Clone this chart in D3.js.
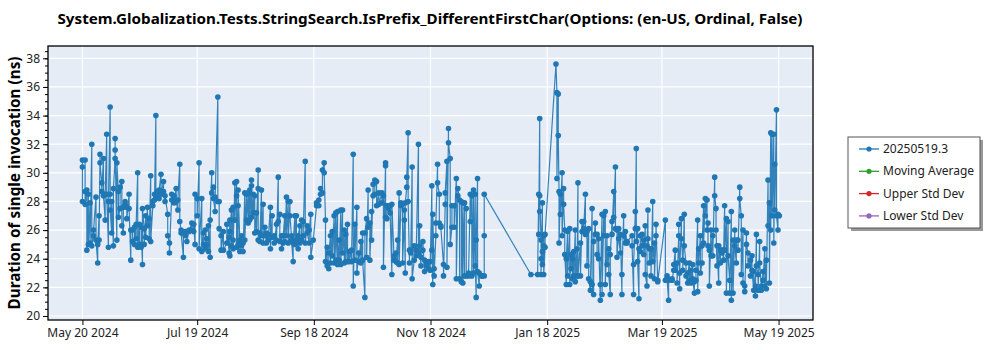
<!DOCTYPE html>
<html><head><meta charset="utf-8">
<script src="https://cdn.jsdelivr.net/npm/d3@7"></script>
<style>
html,body{margin:0;padding:0;background:#fff;}
text{font-family:"Segoe UI","Noto Sans","Open Sans",sans-serif;}
</style></head>
<body><svg id="chart" width="1000" height="350"></svg>
<script>
// ---------------- data ----------------
const chartTitle = "System.Globalization.Tests.StringSearch.IsPrefix_DifferentFirstChar(Options: (en-US, Ordinal, False)";
const yAxisLabel = "Duration of single invocation (ns)";
const seriesName = "20250519.3";
const legendNames = ["20250519.3", "Moving Average", "Upper Std Dev", "Lower Std Dev"];
const baseDate = "2024-05-20";          // day 0
const xDomainDates = ["2024-05-02", "2025-06-06"];
const xTickDates = ["2024-05-20", "2024-07-19", "2024-09-18", "2024-11-18", "2025-01-18", "2025-03-19", "2025-05-19"];
const yDomain = [19.72, 38.86];
const yTicks = [20, 22, 24, 26, 28, 30, 32, 34, 36, 38];

// days since baseDate, and the run values measured on that day
const days = [
0,1.4,2.3,3.1,4.0,4.9,5.8,7.1,8.0,8.7,9.2,10.1,11.0,11.9,12.7,13.6,14.5,15.3,16.2,17.1,18.0,18.8,19.7,20.6,21.4,22.3,23.2,24.4,25.3,26.2,27.2,28.1,28.9,29.8,30.7,31.4,32.3,33.1,34.0,34.9,35.7,36.8,37.7,38.4,39.2,40.1,41.1,42.4,43.2,44.6,45.5,46.7,47.9,49.0,49.9,50.9,51.6,52.8,53.7,54.6,55.8,57.2,58.2,58.9,60.0,61.0,62.4,63.3,64.2,65.0,65.9,66.8,67.6,68.5,69.4,70.8,71.5,72.5,73.7,75.5,76.7,
77.1,77.9,78.8,79.7,80.6,81.4,82.3,83.2,84.0,84.9,85.8,86.7,87.5,88.4,89.3,90.1,91.0,91.9,92.8,93.6,94.5,95.4,96.2,97.1,98.3,99.2,100.3,101.5,102.4,103.2,104.1,105.0,105.8,106.7,107.6,108.5,109.3,110.2,111.1,111.9,112.8,113.7,114.6,115.4,116.5,117.5,118.6,119.4,120.7,122.4,123.6,124.5,125.5,126.4,127.1,128.0,128.8,129.7,130.6,131.6,132.5,133.4,134.3,135.1,136.0,136.9,137.7,138.6,139.5,140.7,141.6,142.4,143.5,144.5,145.6,146.5,147.7,148.6,149.4,150.3,151.2,152.0,152.9,153.8,155.0,
156.6,157.4,158.5,159.2,160.1,160.9,161.8,163.0,163.9,164.8,165.6,166.5,167.4,168.3,168.8,169.6,170.3,171.0,171.7,172.4,173.5,174.5,175.7,176.3,177.0,178.0,178.9,179.8,181.0,181.8,182.7,183.2,183.9,184.8,185.7,186.6,187.4,188.8,189.7,190.6,191.4,192.3,193.2,194.4,195.5,196.3,197.2,198.1,198.9,199.8,200.7,201.9,202.8,203.6,204.5,205.4,205.9,206.6,207.5,208.9,210.1,234.5,
238.0,238.6,239.1,239.8,240.5,241.2,241.9,247.6,248.1,248.8,249.2,249.9,250.8,251.6,252.2,253.0,253.7,254.8,255.5,256.2,256.9,257.7,258.6,259.1,260.4,261.2,262.1,263.0,263.8,264.7,265.6,266.5,267.3,268.2,269.1,269.9,270.8,271.7,272.6,273.4,274.3,275.2,276.0,276.9,277.8,278.7,279.5,280.4,281.3,282.1,283.0,283.9,284.8,287.4,288.2,289.1,289.6,290.3,291.0,291.7,292.6,293.5,294.3,295.2,295.7,296.4,297.3,298.2,299.1,299.9,300.8,
304.8,305.7,306.5,308.3,309.2,310.0,310.9,311.8,312.3,313.2,313.9,314.7,315.6,316.5,317.4,318.2,319.1,320.0,320.8,321.7,322.2,323.1,324.0,324.8,325.7,326.6,327.1,327.8,328.7,329.6,330.6,331.3,331.8,332.7,333.6,334.4,335.3,335.8,336.7,337.6,338.4,339.3,340.2,341.1,341.9,342.8,343.7,344.5,345.4,346.3,347.2,348.0,349.3,350.1,351.0,351.9,352.4,353.3,354.1,355.0,355.9,356.8,357.6,358.5,359.2,359.9,360.6,361.5,362.0,362.9,363.7,364.4
];
const dayValues = [
[28.0,30.4,30.9],[30.9,28.7,27.8],[28.8,24.6],[28.5,25.0],[27.9,25.1],[32.0,24.9],[25.6,26.0],[28.3,25.3],[23.7,25.0],[27.0,25.3],[31.3,30.7],[29.3,28.7],[31.0,28.4],[26.7,28.5],[32.7,28.5],[24.8,28.0],[34.6,28.5,27.4],[25.8,28.0],[24.9,28.9],[31.0,32.4,31.6],[25.3,30.7],[28.7,26.9],[27.5,29.0],[29.4,26.3],[25.8,27.6],[27.8,28.0],[27.6,26.8],[28.5,27.5],[23.9,26.0],[26.0,25.2],[25.0,26.2],[25.4,26.4],[30.0,24.8],[26.4,25.0],[24.8,26.2],[23.6,27.5],[26.1,25.0],[27.0,25.5],[27.6,26.3],[26.8,25.4],[29.8,25.2],[27.7,28.0],[28.5,28.1],[34.0,28.3],[28.7,28.4],[28.2,28.8],[29.9,28.5],[29.4,28.7],[28.0,28.4],[27.1,25.6],[25.1,24.4],[28.5,28.1],[28.4,27.9],[28.9,28.0],[27.4,28.1],[30.6,26.6],[26.0,25.8],[24.1,25.8],[25.9,25.6],[25.9,25.2],[26.0,25.9],[26.5,26.0],[25.9,26.4],[25.0,28.5],[28.2,27.0],[30.7,24.7],[28.2,24.5],[25.8,25.0],[24.7,26.0],[25.4,25.0],[24.5,26.3],[24.1,26.7],[30.0,28.6],[29.0,28.2],[27.3,28.3],[35.3,28.0],[28.0,26.1],[25.6,24.6],[25.9,24.6],[25.1,26.4],[24.4,25.5],
[26.7,24.2,25.9],[27.4,24.9],[27.6,25.3,24.7],[29.3,26.7],[29.4,28.4,24.8],[27.7,25.0,28.8],[25.3,24.5],[25.6,24.9],[25.1,24.5],[28.6,25.3],[28.5,26.7],[28.6,26.5],[28.8,26.7],[29.5,29.1,26.9],[28.5,27.2],[28.4,25.8],[27.2,25.9],[30.2,28.9,25.3],[25.8,25.2],[28.8,25.6],[27.8,25.1],[26.2,25.6],[25.8,25.1],[25.7,25.3],[27.6,24.7],[27.0,25.5],[25.6,25.1],[26.4,25.3],[29.7,26.6],[27.1,25.2],[25.6,24.7],[25.1,25.6],[27.0,25.2],[28.3,25.6],[28.0,25.1],[28.0,27.0],[25.6,25.3],[23.8,25.1],[27.0,25.0],[27.0,25.3],[24.7,25.6],[26.3,25.1],[25.3,26.7],[26.6,25.6],[30.8,25.1],[26.3,25.8],[25.1,26.0],[27.1,24.1],[25.3],[27.7,27.9],[28.1,27.7],[28.9,28.5],[28.6,30.2],[30.7,30.0],[26.7,23.8],[24.8,23.5],[23.3,24.4],[25.6,23.7],[25.9,24.2],[27.0,23.7],[27.2,23.9],[27.3,23.6],[25.3,23.9],[27.4,23.6],[27.4,24.4],[26.0,23.7],[25.7,23.8],[26.4,23.8],[24.5,23.8],[24.6,23.8],[31.3,22.1],[26.4,23.9],[27.6,23.0],[24.4,23.8],[25.2,23.7],[25.8,23.9],[21.3,25.8],[26.8,24.1],[28.8,26.2],[26.5,23.9],[27.3,25.3],[29.2,28.4],[28.5,29.5],[29.4,27.7],[28.6,27.8],
[28.6,27.9],[28.4,23.4],[30.7,30.5,26.9],[26.8,27.7],[27.7,27.5],[27.7,27.2],[22.9,27.8],[23.9,24.2],[24.4,23.8],[25.3,23.7],[28.6,23.6],[27.7,27.9],[27.8,23.7],[26.7,27.4],[23.0,27.9],[29.0,29.7],[32.8,28.0],[23.7,24.6],[24.4,24.6],[30.4,22.6],[23.9,24.9],[24.6,24.2],[32.0,24.4],[26.3,24.9],[23.5,24.1],[24.6,25.2],[23.1,23.9],[23.7,23.5],[23.8,23.3],[23.8,23.2],[29.1,24.6],[22.2,27.1],[23.3,22.8],[25.6,26.5],[30.6,29.3],[28.5,26.5],[26.3,26.2],[23.6,22.8],[27.8,28.6],[30.8,23.4],[33.1,32.1],[31.0,25.0],[26.2,27.7],[27.7,26.2],[29.6,22.6],[28.4,28.9],[28.1,22.6],[22.4,28.0],[22.3,27.9],[22.8,27.9],[27.5,22.8],[22.8,23.0],[28.5,26.6],[28.4,22.8],[28.8,23.0],[28.5,23.5],[21.3,25.3],[29.6,23.1],[22.1,23.0],[22.8,22.8],[22.8,25.6,28.5],[22.9],
[22.9],[28.5,25.7],[33.8,27.3,28.4],[25.3,24.0,22.9],[27.9,24.5,23.6],[24.9,25.6,22.9],[24.8,25.7],[37.6],[35.6,29.6],[35.5,32.6],[28.7,25.1],[28.5,27.1],[30.0,25.6],[28.9,27.8],[26.0,24.3],[22.2,24.0],[25.9,22.8],[26.1,22.2],[24.3,23.3],[24.0,22.6],[24.5,22.8],[26.0,22.4],[24.7,22.8],[29.3,22.8],[25.1,22.8],[26.6,25.9],[26.6,26.1],[28.5,25.7],[25.9,23.5],[26.1,22.6],[21.8,22.4],[27.5,22.2],[21.5,25.2],[26.5,25.7],[25.7,24.3],[24.0,25.4],[21.1,22.2],[27.1,21.5],[27.0,25.6],[27.3,22.2],[25.6,23.6],[24.7,22.9],[21.5,24.3],[26.6,25.7],[28.7,26.9],[30.4,26.1],[26.0,24.1],[26.1,25.4],[24.4,25.7],[21.5,22.9],[27.0,25.6],[25.1,25.9],[25.1,25.2],[25.6,24.9],[21.5,23.6],[27.3,26.1],[31.7,25.2],[26.1,23.8],[21.2,24.7],[24.5,25.6],[25.7,24.9],[25.3,24.3],[26.3,22.9],[22.1,24.9],[27.4,25.4],[24.7,23.7],[24.7,22.8],[28.0,23.8],[25.1,22.6],[25.6,26.4],[22.5,22.4],
[26.7,22.5],[22.8,22.6],[21.1,22.5],[22.6,22.5],[23.2,23.6],[24.6,23.2],[23.7,22.3],[25.6,26.4],[21.9,23.0],[26.8,25.4],[23.9,23.2],[27.1,24.9],[23.7,22.8],[22.3,23.0],[23.7,22.5],[23.2,22.3],[23.6,22.6],[21.6,22.4],[22.5,23.2],[26.7,21.7],[24.7,23.7],[25.6,23.0],[23.7,24.9],[27.7,25.1],[28.2,27.0],[28.1,26.0],[26.5,24.9],[24.6,22.1],[26.0,24.2],[25.6,24.2],[29.7,28.4],[27.5,26.0],[23.5,24.9],[22.3,24.9],[23.7,24.6],[24.4,24.6],[23.9,24.6],[27.7,24.6],[26.8,21.6],[26.6,24.2],[22.5,21.6],[27.3,21.1],[25.3,21.6],[26.0,24.9],[23.7,25.3],[25.3,24.6],[29.0,28.2],[27.0,22.9],[26.0,22.3],[22.1,21.7],[25.8,25.0],[24.4,23.5],[23.9,22.8],[24.2,23.2],[21.8,23.1],[21.4,22.1],[25.7,23.5],[22.9,21.8],[25.2,23.7],[22.1,21.8],[23.1,22.5],[24.7,22.1],[23.9,21.9],[29.5,26.3],[27.9,22.3],[32.8,26.0],[32.7,27.0],[32.7,25.1],[30.6,27.4],[34.4,27.0],[26.0,27.1],[27.0]
];

// ---------------- drawing ----------------
const svg = d3.select("#chart");
const W = 1000, H = 350;
const plot = {left: 48, top: 46, right: 813, bottom: 320};
const blue = "#1f77b4";
const legendColors = ["#1f77b4", "#2ca02c", "#d62728", "#9467bd"];
const parse = d3.timeParse("%Y-%m-%d");
const base = parse(baseDate);
const DAY = 86400000;

const points = [];
days.forEach((d, i) => dayValues[i].forEach(v => points.push({date: new Date(base.getTime() + d * DAY), value: v})));

const x = d3.scaleTime().domain(xDomainDates.map(parse)).range([plot.left, plot.right]);
const y = d3.scaleLinear().domain(yDomain).range([plot.bottom, plot.top]);

svg.append("rect").attr("width", W).attr("height", H).attr("fill", "#fff");
svg.append("rect").attr("x", plot.left).attr("y", plot.top)
  .attr("width", plot.right - plot.left).attr("height", plot.bottom - plot.top).attr("fill", "#e5ecf6");

const tickDates = xTickDates.map(parse);
// grid
svg.append("g").selectAll("line").data(yTicks).join("line")
  .attr("x1", plot.left).attr("x2", plot.right).attr("y1", d => y(d)).attr("y2", d => y(d))
  .attr("stroke", "#fff").attr("stroke-width", 1.2);
svg.append("g").selectAll("line").data(tickDates).join("line")
  .attr("y1", plot.top).attr("y2", plot.bottom).attr("x1", d => x(d)).attr("x2", d => x(d))
  .attr("stroke", "#fff").attr("stroke-width", 1.2);

// data
const clipId = "plotclip";
svg.append("clipPath").attr("id", clipId).append("rect")
  .attr("x", plot.left).attr("y", plot.top).attr("width", plot.right - plot.left).attr("height", plot.bottom - plot.top);
const g = svg.append("g").attr("clip-path", `url(#${clipId})`);
g.append("path").datum(points)
  .attr("d", d3.line().x(d => x(d.date)).y(d => y(d.value)))
  .attr("fill", "none").attr("stroke", blue).attr("stroke-width", 1.2).attr("stroke-opacity", 0.9);
g.selectAll("circle").data(points).join("circle")
  .attr("cx", d => x(d.date)).attr("cy", d => y(d.value)).attr("r", 2.8).attr("fill", blue);

// axes
const yAxis = d3.axisLeft(y).tickValues(yTicks).tickSize(5).tickPadding(3).tickFormat(d3.format("d"));
const yMinor = d3.axisLeft(y).tickValues(d3.range(20, 38.6, 0.5)).tickSize(3).tickFormat("");
const xAxis = d3.axisBottom(x).tickValues(tickDates).tickSize(5).tickPadding(3).tickFormat(d3.timeFormat("%b %d %Y"));
const gy2 = svg.append("g").attr("transform", `translate(${plot.left},0)`).call(yMinor);
const gy = svg.append("g").attr("transform", `translate(${plot.left},0)`).call(yAxis);
const gx = svg.append("g").attr("transform", `translate(0,${plot.bottom})`).call(xAxis);
[gy, gy2, gx].forEach(a => {
  a.select(".domain").remove();
  a.selectAll("line").attr("stroke", "#000");
  a.selectAll("text").attr("font-size", 12).attr("fill", "#222").style("font-family", '"Segoe UI","Noto Sans",sans-serif');
});
svg.append("rect").attr("x", plot.left).attr("y", plot.top)
  .attr("width", plot.right - plot.left).attr("height", plot.bottom - plot.top)
  .attr("fill", "none").attr("stroke", "#000").attr("stroke-width", 1.3);

// title & labels
svg.append("text").attr("x", 430).attr("y", 24).attr("text-anchor", "middle")
  .attr("font-size", 15).attr("font-weight", "bold").attr("fill", "#000")
  .attr("textLength", 745).attr("lengthAdjust", "spacingAndGlyphs").text(chartTitle);
svg.append("text").attr("transform", `translate(20,${(plot.top + plot.bottom) / 2}) rotate(-90)`)
  .attr("text-anchor", "middle").attr("font-size", 16).attr("font-weight", "bold").attr("fill", "#000")
  .attr("textLength", 253).attr("lengthAdjust", "spacingAndGlyphs").text(yAxisLabel);

// legend
const lg = svg.append("g").attr("transform", "translate(848,137)");
lg.append("rect").attr("x", 3).attr("y", 3).attr("width", 132).attr("height", 91).attr("fill", "#999");
lg.append("rect").attr("width", 132).attr("height", 91).attr("fill", "#fff").attr("stroke", "#555").attr("stroke-width", 1);
legendNames.forEach((name, i) => {
  const row = lg.append("g").attr("transform", `translate(0,${12 + i * 22.3})`);
  row.append("line").attr("x1", 11).attr("x2", 31).attr("stroke", legendColors[i]).attr("stroke-width", 1.3);
  row.append("circle").attr("cx", 21).attr("r", 2.6).attr("fill", legendColors[i]);
  row.append("text").attr("x", 35).attr("y", 4).attr("font-size", 12).attr("fill", "#222").text(name);
});
</script></body></html>
